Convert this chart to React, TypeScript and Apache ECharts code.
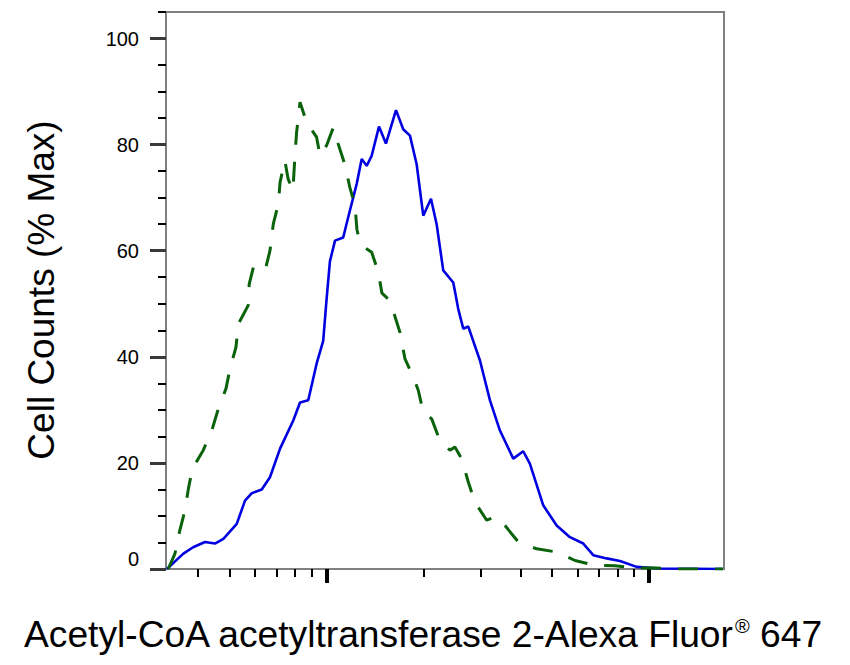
import * as echarts from "echarts";
import { useEffect, useRef } from "react";

// fluorescence intensity (log scale) and % max counts
const stainedX = [
  3.2, 3.6, 3.86, 4.2, 4.51, 4.79, 5.27, 5.59, 5.87, 6.3, 6.68, 7.18, 7.89, 8.28,
  8.78, 9.32, 9.77, 10.0, 10.25, 10.63, 11.27, 11.68, 12.41, 12.86, 13.33, 13.81,
  14.55, 15.29, 16.43, 17.3, 18.15, 19.04, 19.96, 21.09, 21.96, 23.02, 24.73,
  25.63, 26.56, 27.53, 29.92, 32.14, 34.51, 37.95, 40.76, 42.76, 47.01, 51.74,
  56.89, 62.56, 67.2, 73.93, 81.32, 91.6, 108.2, 169.6,
];
const stainedY = [
  0, 2.9, 4.1, 5.1, 4.8, 5.7, 8.5, 12.9, 14.3, 15, 17.3, 22.7, 28, 31.4,
  31.8, 38.7, 43, 50.6, 58, 61.9, 62.5, 66.3, 72.6, 77.3, 76, 77.9,
  83.4, 80.2, 86.5, 82.9, 81.7, 76.3, 66.6, 69.8, 65, 56.3, 54,
  49, 45.3, 45.7, 39.3, 31.8, 26.1, 20.8, 22.2, 19.8, 12, 8.2,
  6, 4.8, 2.6, 2, 1.5, 0.4, 0.1, 0,
];

const controlX = [
  3.23, 3.39, 3.51, 3.64, 3.73, 3.84, 4.15, 4.41, 4.62, 4.88, 5.02, 5.24, 5.33,
  5.72, 5.76, 5.97, 6.49, 6.68, 6.84, 7.09, 7.18, 7.43, 7.6, 7.87, 7.99, 8.08,
  8.28, 8.68, 9.32, 9.55, 10.0, 10.5, 10.88, 11.41, 11.82, 12.26, 12.43, 12.7,
  13.2, 13.81, 14.47, 14.86, 15.74, 16.9, 17.52, 18.58, 19.26, 19.96, 21.2, 22.48,
  24.15, 25.02, 26.26, 27.53, 28.87, 31.39, 33.3, 35.77, 39.33, 44.86, 51.74,
  58.95, 68.02, 78.47, 91.6, 105.7, 124.8, 169.6,
];
const controlY = [
  0, 2.9, 7.3, 11, 15.1, 18.9, 22.4, 26.1, 30.2, 34, 37.7, 41.8, 46.2,
  49.7, 53.7, 57.5, 56.9, 60, 65, 68.8, 72.9, 77, 73.6, 71.3, 78.2, 82.3,
  88, 84.2, 81.4, 77.9, 79.8, 83.2, 80.1, 76.2, 71.9, 68.5, 64, 61.5,
  60.5, 59.7, 56, 52, 50.6, 44.6, 39.6, 36.2, 33.7, 29.6, 28.3, 24.2,
  22.4, 23, 20.8, 16.4, 12.6, 9.2, 9.8, 8.2, 5.1, 3.8, 3.2,
  1.6, 0.7, 0.6, 0.2, 0.2, 0, 0,
];

const xMajorTicks = [10, 100];
const xMinorTicks = [4, 5, 6, 7, 8, 9, 20, 30, 40, 50, 60, 70, 80, 90];
const yMajorTicks = [0, 20, 40, 60, 80, 100];
const yMinorTicks = [5, 10, 15, 25, 30, 35, 45, 50, 55, 65, 70, 75, 85, 90, 95, 105];

const X_MIN = 3.18;
const X_MAX = 170.9;
const FONT = "Liberation Sans, Arial, sans-serif";

export default function App() {
  const chartRef = useRef<HTMLDivElement>(null);
  useEffect(() => {
    const chart = echarts.init(chartRef.current, null, { renderer: "svg" });
    chart.setOption(getChartOption());
    return () => {
      chart.dispose();
    };
  }, []);
  return (
    <div
      ref={chartRef}
      style={{ position: "fixed", left: 0, top: 0, width: 850, height: 665, background: "#fff" }}
    />
  );
}

function getChartOption() {
  const axisLine = { show: true, lineStyle: { color: "#808080", width: 2 } };
  const xBase = {
    type: "log",
    min: X_MIN,
    max: X_MAX,
    position: "bottom",
    axisLine,
    axisLabel: { show: false },
    splitLine: { show: false },
  };
  const yBase = {
    type: "value",
    min: 0,
    max: 105,
    position: "left",
    axisLine,
    splitLine: { show: false },
  };
  return {
    animation: false,
    backgroundColor: "#fff",
    grid: {
      left: 166,
      right: 126,
      top: 12,
      bottom: 96,
      show: true,
      borderColor: "#808080",
      borderWidth: 2,
    },
    xAxis: [
      {
        ...xBase,
        axisTick: {
          show: true,
          customValues: xMajorTicks,
          length: 14,
          lineStyle: { color: "#000", width: 4 },
        },
      },
      {
        ...xBase,
        axisTick: {
          show: true,
          customValues: xMinorTicks,
          length: 8,
          lineStyle: { color: "#000", width: 2 },
        },
      },
    ],
    yAxis: [
      {
        ...yBase,
        axisTick: {
          show: true,
          customValues: yMajorTicks,
          length: 16,
          lineStyle: { color: "#3a3a3a", width: 3 },
        },
        axisLabel: {
          customValues: yMajorTicks,
          margin: 27,
          color: "#000",
          fontSize: 20,
          fontFamily: FONT,
          verticalAlignMinLabel: "bottom",
        },
      },
      {
        ...yBase,
        axisTick: {
          show: true,
          customValues: yMinorTicks,
          length: 8,
          lineStyle: { color: "#000", width: 2 },
        },
        axisLabel: { show: false },
      },
    ],
    graphic: [
      {
        type: "text",
        x: 41,
        y: 290,
        rotation: Math.PI / 2,
        style: {
          text: "Cell Counts (% Max)",
          fontSize: 37,
          fontFamily: FONT,
          fill: "#000",
          align: "center",
          verticalAlign: "middle",
        },
      },
      {
        type: "text",
        x: 24,
        y: 634,
        style: {
          text: "{a|Acetyl-CoA acetyltransferase 2-Alexa Fluor}{r|®}{a| 647}",
          align: "left",
          verticalAlign: "middle",
          rich: {
            a: { fontSize: 37.2, fontFamily: FONT, fill: "#000" },
            r: { fontSize: 20, fontFamily: FONT, fill: "#000", verticalAlign: "top" },
          },
        },
      },
    ],
    series: [
      {
        name: "stained",
        type: "line",
        xAxisIndex: 0,
        yAxisIndex: 0,
        showSymbol: false,
        data: stainedX.map((x, i) => [x, stainedY[i]]),
        lineStyle: { color: "#0000e0", width: 2.6 },
        z: 3,
      },
      {
        name: "control",
        type: "line",
        xAxisIndex: 0,
        yAxisIndex: 0,
        showSymbol: false,
        data: controlX.map((x, i) => [x, controlY[i]]),
        lineStyle: { color: "#0a620a", width: 3, type: [20, 17] },
        z: 4,
      },
    ],
  };
}
